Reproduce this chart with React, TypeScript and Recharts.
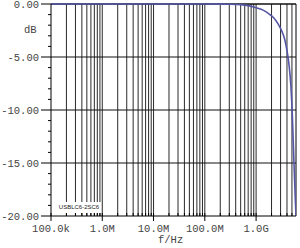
import React from "react";
import { LineChart, Line, XAxis, YAxis, ReferenceLine } from "recharts";

// insertion loss curve (Hz, dB)
const freqHz = [1e5, 1e6, 1e7, 1e8, 2e8, 3e8, 5e8, 7e8, 1e9, 1.4e9, 1.8e9, 2.2e9, 2.7e9, 3.2e9, 3.6e9, 4.0e9, 4.4e9, 4.75e9, 5.1e9, 5.5e9, 5.8e9, 6.0e9];
const lossDb = [0, 0, 0, 0, -0.01, -0.02, -0.06, -0.15, -0.35, -0.6, -0.95, -1.3, -1.9, -2.6, -3.3, -4.4, -5.8, -7.6, -10.6, -15.2, -18.3, -20];

const xDecades = [1e5, 1e6, 1e7, 1e8, 1e9];
const xDecadeLabels = ["100.0k", "1.0M", "10.0M", "100.0M", "1.0G"];
const minorSteps = [2, 3, 4, 5, 6, 7, 8, 9];
const yMajor = [0, -5, -10, -15, -20];

const xMax = 6e9;
const xGrid = xDecades.flatMap((d) => [d, ...minorSteps.map((m) => d * m)]).filter((v) => v > 1e5 && v < xMax);
const yTicks = Array.from({ length: 21 }, (_, i) => -i);

const data = freqHz.map((f, i) => ({ f, db: lossDb[i] }));

const mono = "Liberation Mono, monospace";
const textColor = "#444";

const YTick = (props: any) => {
  const { x, y, payload } = props;
  const v = payload.value;
  const major = v % 5 === 0;
  return (
    <g>
      <line x1={x - (major ? 10 : 3)} x2={x} y1={y} y2={y} stroke="#000" />
      {major && (
        <text x={x - 12} y={v === 0 ? y + 0.5 : y} dy={3.5} textAnchor="end" fontFamily={mono} fontSize={10.5} fill={textColor}>
          {v.toFixed(2)}
        </text>
      )}
    </g>
  );
};

const XTick = (props: any) => {
  const { x, y, payload } = props;
  const idx = xDecades.indexOf(payload.value);
  if (idx < 0) return <line x1={x} x2={x} y1={y - 3} y2={y} stroke="#000" />;
  return (
    <g>
      <line x1={x} x2={x} y1={y - 3} y2={y + 5} stroke="#000" />
      <text x={x} y={y + 16} textAnchor="middle" fontFamily={mono} fontSize={10.5} fill={textColor}>
        {xDecadeLabels[idx]}
      </text>
    </g>
  );
};

export default function App() {
  return (
    <div style={{ position: "absolute", left: 0, top: 0, width: 300, height: 248, background: "#fff" }}>
      <LineChart width={300} height={248} data={data} margin={{ top: 4, right: 4, left: 0, bottom: 0 }}>
        <XAxis
          dataKey="f"
          type="number"
          scale="log"
          domain={[1e5, xMax]}
          allowDataOverflow
          ticks={[...xDecades, ...xGrid.filter((v) => !xDecades.includes(v))]}
          tick={<XTick />}
          tickLine={false}
          tickSize={0}
          tickMargin={0}
          height={32}
          stroke="#000"
          interval={0}
        />
        <YAxis
          type="number"
          domain={[-20, 0]}
          ticks={yTicks}
          tick={<YTick />}
          tickLine={false}
          tickSize={0}
          tickMargin={0}
          width={51}
          stroke="#000"
          interval={0}
        />
        {xGrid.map((v) => (
          <ReferenceLine key={"x" + v} x={v} stroke="#2a2a2a" />
        ))}
        <ReferenceLine x={xMax} stroke="#000" />
        {yMajor.slice(0, 4).map((v) => (
          <ReferenceLine key={"y" + v} y={v} stroke="#111" strokeWidth={v === 0 ? 1.5 : 1} />
        ))}
        <Line
          dataKey="db"
          type="monotone"
          stroke="#5656a6"
          strokeWidth={1.6}
          dot={false}
          isAnimationActive={false}
        />
      </LineChart>
      <div style={{ position: "absolute", left: 24, top: 24, fontFamily: mono, fontSize: 10.5, color: textColor }}>dB</div>
      <div style={{ position: "absolute", left: 158, top: 234, fontFamily: mono, fontSize: 10.5, color: textColor }}>f/Hz</div>
      <div
        style={{
          position: "absolute",
          left: 57,
          top: 202,
          width: 44,
          height: 11,
          background: "#fff",
          fontFamily: "Liberation Sans, sans-serif",
          fontSize: 6,
          lineHeight: "11px",
          textAlign: "center",
          color: "#222",
        }}
      >
        USBLC6-2SC6
      </div>
    </div>
  );
}
